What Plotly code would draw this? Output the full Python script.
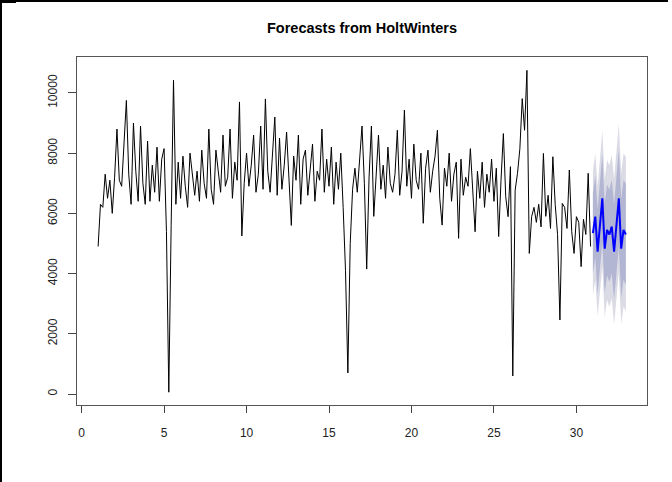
import plotly.graph_objects as go

# ---- data ----
start = 1
frequency = 7

observed = [
    4900, 6300, 6200, 7300, 6500, 7100, 6000,
    7200, 8800, 7100, 6900, 8300, 9750, 7300,
    6300, 9000, 7400, 6400, 8900, 7000, 6300,
    8400, 6400, 7600, 6700, 8200, 6400, 7800,
    8150, 5400, 60, 5600, 10420, 6300, 7700,
    6500, 7900, 6900, 6200, 8000, 7200, 6600,
    7400, 6400, 8100, 7000, 6500, 8800, 6800,
    6300, 8100, 7300, 6700, 8600, 6900, 7200,
    8800, 6500, 7700, 7100, 9700, 5250, 7000,
    8000, 6900, 7600, 8600, 6700, 7300, 8900,
    6800, 9800, 7400, 6700, 7800, 9200, 6600,
    8500, 6800, 7600, 8700, 7300, 5600, 7900,
    7100, 8600, 6300, 7800, 8100, 6600, 7600,
    8300, 6400, 7400, 7100, 8800, 6700, 7800,
    6900, 8200, 6300, 7700, 6800, 8000, 6200,
    4100, 700, 5000, 6800, 7500, 6700, 7900,
    8900, 7000, 4150, 7200, 8900, 5900, 7300,
    8600, 6800, 7600, 6500, 8200, 7000, 6700,
    7300, 8760, 6600, 7400, 9430, 6900, 7800,
    6500, 8300, 7100, 6800, 8000, 5670, 7500,
    8100, 6700, 7400, 7900, 8760, 6500, 5610,
    7500, 6900, 8000, 6400, 7300, 7700, 5170,
    7800, 6600, 7200, 6900, 8150, 6700, 5390,
    7400, 6500, 7700, 6200, 7300, 6700, 7800,
    6400, 7500, 5230, 7100, 8650, 6550, 5890,
    7550, 600, 6770, 7330, 8150, 9810, 8760,
    10750, 4670, 5890, 6200, 5700, 6300, 5550,
    7990, 5900, 6600, 5500, 7880, 6300, 5300,
    2460, 6330, 6200, 5500, 7440, 5400, 4670,
    5890, 5700, 4230, 5800, 5300, 7330, 4900,
]

forecast = [5340, 5890, 4730, 5560, 6500, 4830, 5450, 5300, 5560, 4730, 5500, 6500, 4830, 5450, 5300]
lo80 = [4000, 4520, 3330, 4130, 5040, 3340, 3940, 3720, 4000, 3150, 3900, 4880, 3190, 3790, 3620]
hi80 = [6680, 7260, 6130, 6990, 7960, 6320, 6960, 6780, 7120, 6310, 7100, 8120, 6470, 7110, 6980]
lo95 = [3290, 3790, 2580, 3360, 4250, 2550, 3130, 2900, 3170, 2310, 3050, 4020, 2320, 2910, 2730]
hi95 = [7390, 7990, 6880, 7760, 8750, 7110, 7770, 7600, 7950, 7150, 7950, 8980, 7340, 7990, 7870]

x_ticks = [0, 5, 10, 15, 20, 25, 30]
y_ticks = [0, 2000, 4000, 6000, 8000, 10000]
y_tick_labels = ["0", "2000", "4000", "6000", "8000", "10000"]

# ---- time index ----
t_obs = [start + i / frequency for i in range(len(observed))]
t_fc = [start + (len(observed) + i) / frequency for i in range(len(forecast))]

fig = go.Figure()

# 95% band
fig.add_trace(go.Scatter(x=t_fc + t_fc[::-1], y=hi95 + lo95[::-1], fill="toself",
                         fillcolor="#DBDBE6", line=dict(width=0), mode="lines",
                         hoverinfo="skip", showlegend=False))
# 80% band
fig.add_trace(go.Scatter(x=t_fc + t_fc[::-1], y=hi80 + lo80[::-1], fill="toself",
                         fillcolor="#B2B6D2", line=dict(width=0), mode="lines",
                         hoverinfo="skip", showlegend=False))
# observed
fig.add_trace(go.Scatter(x=t_obs, y=observed, mode="lines",
                         line=dict(color="black", width=1), showlegend=False))
# forecast
fig.add_trace(go.Scatter(x=t_fc, y=forecast, mode="lines",
                         line=dict(color="#0000FF", width=2), showlegend=False))

font_family = "Liberation Sans, Arial, sans-serif"

fig.update_layout(
    width=672, height=482,
    margin=dict(l=77, r=25, t=57, b=77),
    paper_bgcolor="white", plot_bgcolor="white",
    font=dict(family=font_family, size=12, color="#222"),
    title=dict(text="<b>Forecasts from HoltWinters</b>", x=(77 + 647) / 2 / 672,
               xanchor="center", y=1 - 28 / 482, yanchor="middle",
               font=dict(family=font_family, size=14.5, color="black")),
    xaxis=dict(range=[-0.28, 34.28], tickvals=x_ticks, ticks="outside", ticklen=7,
               tickcolor="#444", showgrid=False, zeroline=False, showline=True,
               mirror=True, linecolor="#555", linewidth=1,
               tickfont=dict(size=12, color="#222"), ticklabelstandoff=10),
    yaxis=dict(range=[-365, 11193], tickvals=y_ticks, ticktext=y_tick_labels,
               ticks="outside", ticklen=8,
               tickcolor="#444", showgrid=False, zeroline=False, showline=True,
               mirror=True, linecolor="#555", linewidth=1, tickangle=-90,
               tickfont=dict(size=12, color="#222"), ticklabelstandoff=6),
)

# outer frame lines of the screenshot (left and top edges)
pw, ph = 570.0, 348.0
def px_x(px):
    return (px - 77) / pw
def px_y(py):
    return (405 - py) / ph

fig.add_shape(type="line", xref="paper", yref="paper",
              x0=px_x(1), x1=px_x(1), y0=px_y(0), y1=px_y(482),
              line=dict(color="black", width=2))
fig.add_shape(type="line", xref="paper", yref="paper",
              x0=px_x(0), x1=px_x(668), y0=px_y(1), y1=px_y(1),
              line=dict(color="black", width=2))
fig.add_shape(type="line", xref="paper", yref="paper",
              x0=px_x(0), x1=px_x(16), y0=px_y(1.5), y1=px_y(1.5),
              line=dict(color="black", width=3))

fig.write_html("out.html", config={"displayModeBar": False},
               post_script="document.body.style.margin='0';")
